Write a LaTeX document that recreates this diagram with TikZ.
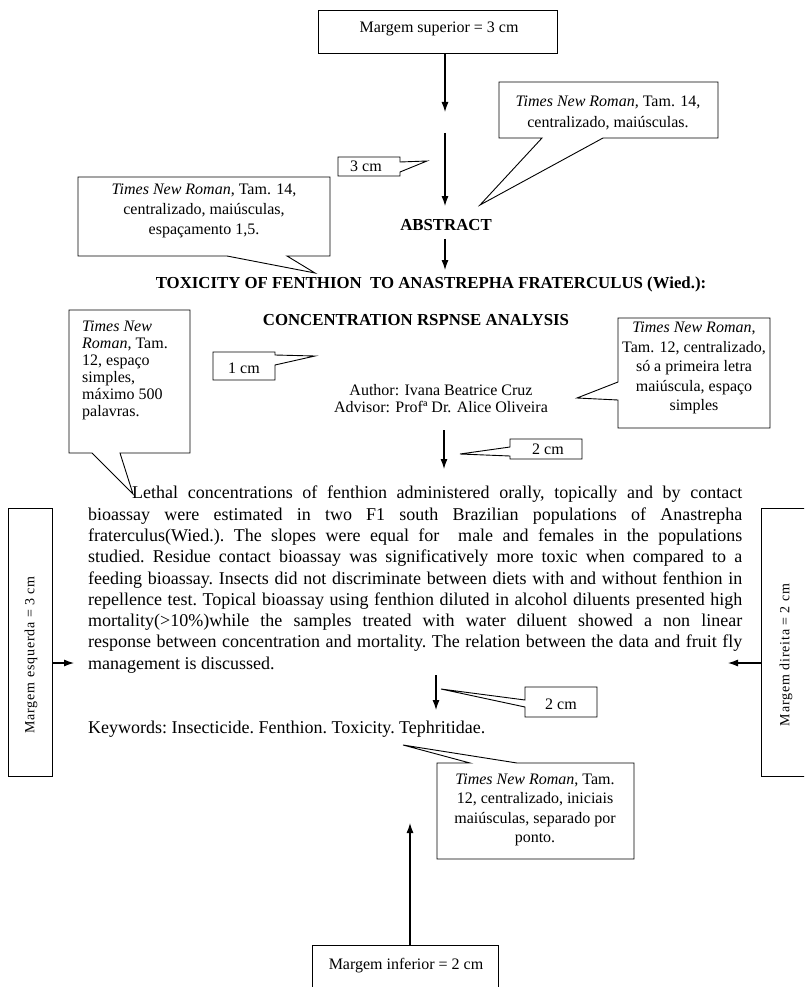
\documentclass[tikz,border=0pt]{standalone}
\usepackage{fontspec}
\setmainfont{Liberation Serif}
\newfontfamily\spacedfont[LetterSpace=6]{Liberation Serif}
\usetikzlibrary{arrows.meta}
\begin{document}
\begin{tikzpicture}[x=1pt,y=-1pt,
  arr/.style={-{Latex[length=10pt,width=7pt]}, line width=1.1pt},
  frame/.style={draw, line width=0.9pt, inner sep=0pt},
  callout/.style={draw, fill=white, line width=0.9pt, line join=miter},
  ctext/.style={font=\fontsize{16}{19.5}\selectfont, align=center, inner sep=0pt},
  ttext/.style={font=\fontsize{16.8}{20}\selectfont\bfseries, inner sep=0pt},
  vtext/.style={font=\fontsize{14}{16}\spacedfont, rotate=90, inner sep=0pt}
]
\useasboundingbox (0,0) rectangle (804,987);
\clip (0,0) rectangle (804,987);

% top margin box
\node[frame, minimum width=239pt, minimum height=43pt] (sup) at (437.5,31.5) {};
\node[ctext] (suptxt) at (439,29) {Margem superior = 3 cm};
\coordinate (a1end) at (445,112);
\draw[arr] (sup.south -| a1end) -- (a1end);

% arrow to ABSTRACT
\coordinate (a2start) at (445,133);
\coordinate (a2end) at (445,206);
\draw[arr] (a2start) -- (a2end);

% top-right callout
\draw[callout] (499,82) -- (718,82) -- (718,138) -- (603,138) -- (480,205) -- (542,138) -- (499,138) -- cycle;
\node[ctext, font=\fontsize{16}{21}\selectfont] (trt) at (608,113) {\textit{Times New Roman,} Tam. 14,\\ centralizado, maiúsculas.};

% 3 cm callout
\draw[callout] (338,157) -- (400,157) -- (400,162) -- (427,161) -- (400,172) -- (400,176) -- (338,176) -- cycle;
\node[ctext] (c3) at (366,166) {3 cm};

% big left callout
\draw[callout] (78,177) -- (330,177) -- (330,256) -- (287,256) -- (315,273) -- (227,256) -- (78,256) -- cycle;
\node[ctext, font=\fontsize{16}{20}\selectfont] (blt) at (204,211) {\textit{Times New Roman}, Tam. 14,\\ centralizado, maiúsculas,\\ espaçamento 1,5.};

% titles
\node[ttext] (abs) at (446,225) {ABSTRACT};
\coordinate (a3end) at (445,270);
\draw[arr] (abs.south -| a3end) ++(0,8) -- (a3end);
\node[ttext] (tit1) at (431,284) {TOXICITY OF FENTHION\ \ TO ANASTREPHA FRATERCULUS (Wied.):};
\node[ttext] (tit2) at (416,320) {CONCENTRATION RSPNSE ANALYSIS};

% narrow left callout
\draw[callout] (69,310) -- (190,310) -- (190,453) -- (120,453) -- (133,494) -- (92,453) -- (69,453) -- cycle;
\node[ctext, font=\fontsize{16}{17}\selectfont, align=left, anchor=north west] (nlt) at (82,321) {\textit{Times New}\\ \textit{Roman}, Tam.\\ 12, espaço\\ simples,\\ máximo 500\\ palavras.};

% 1 cm callout
\draw[callout] (213,352) -- (275,352) -- (275,355) -- (315,356) -- (275,365) -- (275,380) -- (213,380) -- cycle;
\node[ctext] (c1) at (244,368) {1 cm};

% authors
\node[ctext, font=\fontsize{16}{17}\selectfont] (auth) at (441,399) {Author: Ivana Beatrice Cruz\\ Advisor: Profª Dr. Alice Oliveira};

% right callout
\draw[callout] (618,318) -- (770,318) -- (770,428) -- (618,428) -- (618,400) -- (577,398) -- (618,382) -- cycle;
\node[ctext] (rct) at (694,368) {\textit{Times New Roman},\\ Tam. 12, centralizado,\\ só a primeira letra\\ maiúscula, espaço\\ simples};

% arrow to body + 2 cm callout
\coordinate (a4start) at (444,430);
\coordinate (a4end) at (444,469);
\draw[arr] (a4start) -- (a4end);
\draw[callout] (510,439) -- (582,439) -- (582,459) -- (510,459) -- (510,456) -- (460,454) -- (510,447) -- cycle;
\node[ctext] (c2a) at (548,449) {2 cm};

% body
\node[anchor=north west, inner sep=0pt, text width=654pt, align=justify, font=\fontsize{18}{21.3}\selectfont\frenchspacing] (body) at (88,486) {\hspace*{44pt}Lethal concentrations of fenthion administered orally, topically and by contact\linebreak%
bioassay were estimated in two F1 south Brazilian populations of Anastrepha\linebreak%
fraterculus(Wied.). The slopes were equal for\ \ male and females in the populations\linebreak%
studied. Residue contact bioassay was significatively more toxic when compared to a\linebreak%
feeding bioassay. Insects did not discriminate between diets with and without fenthion in\linebreak%
repellence test. Topical bioassay using fenthion diluted in alcohol diluents presented high\linebreak%
mortality(>10\%)while the samples treated with water diluent showed a non linear\linebreak%
response between concentration and mortality. The relation between the data and fruit fly\linebreak%
management is discussed.};

% margin boxes
\node[frame, minimum width=44pt, minimum height=268pt] (lbox) at (30,642) {};
\node[vtext] (ltxt) at (31,655) {Margem esquerda = 3 cm};
\coordinate (lend) at (74,663);
\draw[arr] (lbox.east |- lend) -- (lend);

\node[frame, minimum width=49pt, minimum height=268pt] (rbox) at (785.5,642) {};
\node[vtext] (rtxt) at (786,655) {Margem direita = 2 cm};
\coordinate (rend) at (728,663);
\draw[arr] (rbox.west |- rend) -- (rend);

% arrow to keywords + 2 cm callout
\coordinate (a5start) at (436,675);
\coordinate (a5end) at (436,710);
\draw[arr] (a5start) -- (a5end);
\draw[callout] (525,687) -- (597,687) -- (597,717) -- (525,717) -- (525,707) -- (441,689) -- (525,700) -- cycle;
\node[ctext] (c2b) at (561,704) {2 cm};

% keywords
\node[anchor=base west, inner sep=0pt, font=\fontsize{18}{21.3}\selectfont\frenchspacing] (kw) at (88,733) {Keywords: Insecticide. Fenthion. Toxicity. Tephritidae.};

% keyword callout
\draw[callout] (437,763) -- (470,763) -- (403,745) -- (517,763) -- (634,763) -- (634,859) -- (437,859) -- cycle;
\node[ctext] (kwt) at (535,810) {\textit{Times New Roman}, Tam.\\ 12, centralizado, iniciais\\ maiúsculas, separado por\\ ponto.};

% bottom margin box
\node[frame, minimum width=186pt, minimum height=60pt] (inf) at (405,975) {};
\node[ctext] (inftxt) at (406,966) {Margem inferior = 2 cm};
\coordinate (a8end) at (410,823);
\draw[arr] (inf.north -| a8end) -- (a8end);
\end{tikzpicture}
\end{document}
